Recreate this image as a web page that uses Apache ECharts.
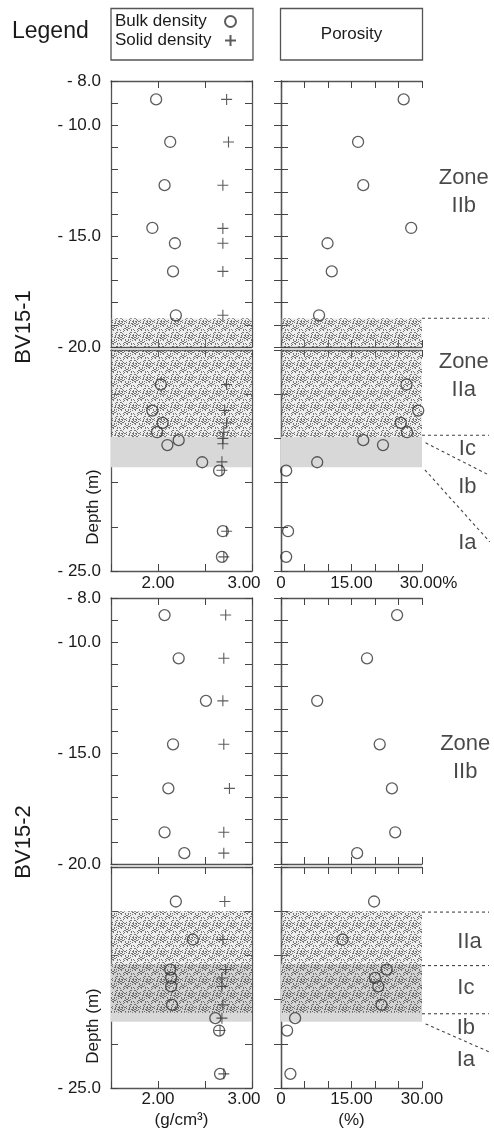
<!DOCTYPE html>
<html><head><meta charset="utf-8">
<script src="https://cdn.jsdelivr.net/npm/echarts@6/dist/echarts.min.js"></script>
<style>html,body{margin:0;padding:0;background:#fff}#c{width:494px;height:1131px}</style>
</head><body><div id="c"></div>
<script>
// ================= DATA =================
// Depth values in metres (negative = below reference), densities in g/cm3, porosity in %
// BV15-1, upper section (-8 to -20 m)
const bv1TopDepth = [-8.83, -10.75, -12.70, -14.63, -15.32, -16.59, -18.57];
const bv1TopBulk = [1.98, 2.13, 2.07, 1.94, 2.18, 2.16, 2.19];
const bv1TopSolidDepth = [-8.83, -10.75, -12.70, -14.65, -15.32, -16.59, -18.57];
const bv1TopSolid = [2.73, 2.75, 2.69, 2.69, 2.69, 2.69, 2.69];
const bv1TopPoro = [26.1, 16.4, 17.5, 27.7, 9.9, 10.8, 8.1];
// BV15-1, lower section (-20 to -25 m)
const bv1BotDepth = [-20.78, -21.37, -21.65, -21.86, -22.04, -22.15, -22.54, -22.73, -24.10, -24.68];
const bv1BotBulk = [2.03, 1.94, 2.05, 1.99, 2.22, 2.10, 2.47, 2.65, 2.69, 2.68];
const bv1BotSolidDepth = [-20.78, -21.37, -21.65, -21.86, -22.00, -22.12, -22.53, -22.72, -24.10, -24.68];
const bv1BotSolid = [2.73, 2.71, 2.73, 2.70, 2.69, 2.69, 2.68, 2.68, 2.73, 2.70];
const bv1BotPoro = [26.7, 29.2, 25.5, 26.8, 17.5, 21.7, 7.7, 1.1, 1.5, 1.1];
// BV15-2, upper section
const bv2TopDepth = [-8.77, -10.72, -12.64, -14.60, -16.59, -18.57, -19.51];
const bv2TopBulk = [2.07, 2.22, 2.51, 2.16, 2.11, 2.07, 2.28];
const bv2TopSolid = [2.72, 2.70, 2.69, 2.70, 2.76, 2.70, 2.70];
const bv2TopPoro = [24.7, 18.3, 7.7, 21.0, 23.6, 24.3, 16.2];
// BV15-2, lower section
const bv2BotDepth = [-20.78, -21.64, -22.32, -22.51, -22.70, -23.12, -23.42, -23.70, -24.68];
const bv2BotBulk = [2.19, 2.37, 2.13, 2.14, 2.14, 2.15, 2.61, 2.65, 2.66];
const bv2BotSolid = [2.71, 2.69, 2.72, 2.68, 2.68, 2.69, 2.68, 2.66, 2.70];
const bv2BotPoro = [19.8, 13.1, 22.5, 20.0, 20.7, 21.4, 3.0, 1.3, 2.0];

// Zone shading (depth ranges)
const bv1TopStipple = [[-18.7, -20]];
const bv1BotStipple = [[-20, -21.97]];
const bv1BotGrey = [[-21.97, -22.65]];
const bv2BotStipple = [[-21.0, -23.3]];
const bv2BotGrey = [[-22.2, -23.5]];

// Zone boundary lines [x0, depth0, x1, depth1] in the zone column (x: 0..1)
const bv1TopZoneLines = [[0, -18.7, 0.93, -18.7]];
const bv1BotZoneLines = [[0, -21.93, 0.93, -21.93], [0.05, -22.10, 0.93, -22.83], [0.04, -22.71, 0.94, -24.34]];
const bv2BotZoneLines = [[0, -21.02, 0.93, -21.02], [0, -22.23, 0.93, -22.23], [0, -23.32, 0.93, -23.32], [0.05, -23.55, 0.93, -24.18]];

// Zone labels [x, depth, text]
const bv1TopZoneLabels = [[0.58, -13.0, 'Zone\nIIb']];
const bv1BotZoneLabels = [[0.58, -20.58, 'Zone\nIIa'], [0.63, -22.24, 'Ic'], [0.63, -23.1, 'Ib'], [0.63, -24.37, 'Ia']];
const bv2TopZoneLabels = [[0.6, -15.2, 'Zone\nIIb']];
const bv2BotZoneLabels = [[0.66, -21.69, 'IIa'], [0.61, -22.73, 'Ic'], [0.61, -23.63, 'Ib'], [0.61, -24.36, 'Ia']];

// Tick labels
const depthLabels = {'-8': '- 8.0', '-10': '- 10.0', '-15': '- 15.0', '-20': '- 20.0', '-25': '- 25.0'};
const densityLabels = {'2': '2.00', '3': '{r|3.00}'};
const poroLabelsUpper = {'0': '0', '15': '15.00', '30': '{p|30.00%}'};
const poroLabelsLower = {'0': '0', '15': '15.00', '30': '30.00'};

// ================= BUILD =================
const FONT = 'Liberation Sans, Arial, Helvetica, sans-serif';
const TXT = '#1a1a1a';
const grids = [], xAxes = [], yAxes = [], series = [];

// stipple texture tile (fixed dot layout)
const TILE = 14;
const pc = document.createElement('canvas');
pc.width = TILE; pc.height = TILE;
const pctx = pc.getContext('2d');
pctx.fillStyle = 'rgba(200,200,200,0.3)';
pctx.fillRect(0, 0, TILE, TILE);
pctx.fillStyle = 'rgba(45,45,45,0.62)';
for (let i = 0; i < TILE; i++) for (let j = 0; j < TILE; j++) {
  if ((i * 5 + j * 3 + ((i * j) % 4)) % 7 < 2) pctx.fillRect(i, j, 1, 1);
}
const stipple = {image: pc, repeat: 'repeat'};
const GREY = '#d8d8d8';

const axLine = {show: true, lineStyle: {color: '#555', width: 1.3}};
const tick = {show: true, inside: true, length: 7, lineStyle: {color: '#444', width: 1}};
const richBase = {
  r: {fontSize: 17, fontFamily: FONT, color: TXT, padding: [0, 16, 0, 0]},
  p: {fontSize: 17, fontFamily: FONT, color: TXT, padding: [0, 0, 0, 13]}
};

function addPanel(c) {
  const gi = grids.length;
  grids.push({left: c.left, top: c.top, width: c.width, height: c.height});
  const xi = xAxes.length;
  xAxes.push({
    gridIndex: gi, type: 'value', position: 'bottom', min: c.xmin, max: c.xmax, interval: c.xint,
    axisLine: axLine, axisTick: tick, splitLine: {show: false},
    axisLabel: c.xLabels ? {
      show: true, interval: 0, margin: c.xMargin, fontSize: 17, fontFamily: FONT, color: TXT,
      showMinLabel: true, showMaxLabel: true, rich: richBase,
      formatter: v => c.xLabels[String(v)] || ''
    } : {show: false},
    name: c.xName || '', nameLocation: 'middle', nameGap: 24,
    nameTextStyle: {fontSize: 17, fontFamily: FONT, color: TXT}
  });
  xAxes.push({
    gridIndex: gi, type: 'value', position: 'top', min: c.xmin, max: c.xmax, interval: c.xint,
    axisLine: axLine, axisTick: tick, splitLine: {show: false}, axisLabel: {show: false}
  });
  const yi = yAxes.length;
  yAxes.push({
    gridIndex: gi, type: 'value', position: 'left', min: c.ymin, max: c.ymax, interval: 1,
    axisLine: axLine, axisTick: tick, splitLine: {show: false},
    axisLabel: c.yLabels ? {
      show: true, interval: 0, margin: 10, fontSize: 17, fontFamily: FONT, color: TXT,
      showMinLabel: true, showMaxLabel: true,
      formatter: v => (c.yLabels.includes(v) ? depthLabels[String(v)] : '')
    } : {show: false}
  });
  yAxes.push({
    gridIndex: gi, type: 'value', position: 'right', min: c.ymin, max: c.ymax, interval: 1,
    axisLine: axLine, axisTick: tick, splitLine: {show: false}, axisLabel: {show: false}
  });
  return {xi, yi};
}

function addZoneGrid(top, height, ymin, ymax) {
  const gi = grids.length;
  grids.push({left: 422, top: top, width: 72, height: height});
  const xi = xAxes.length;
  xAxes.push({gridIndex: gi, type: 'value', min: 0, max: 1, show: false});
  const yi = yAxes.length;
  yAxes.push({gridIndex: gi, type: 'value', min: ymin, max: ymax, show: false});
  return {xi, yi};
}

function areas(p, ranges, color, z) {
  if (!ranges.length) return;
  series.push({
    type: 'scatter', xAxisIndex: p.xi, yAxisIndex: p.yi, data: [], silent: true, z: z,
    markArea: {silent: true, itemStyle: {color: color, borderWidth: 0}, label: {show: false},
      data: ranges.map(r => [{yAxis: r[0]}, {yAxis: r[1]}])}
  });
}

const CROSS = 'path://M0,5L10,5M5,0L5,10';
function bulk(p, xs, ys) {
  series.push({
    name: 'Bulk density', type: 'scatter', xAxisIndex: p.xi, yAxisIndex: p.yi, z: 5,
    symbol: 'circle', symbolSize: 11,
    itemStyle: {color: 'rgba(0,0,0,0)', borderColor: '#333', borderWidth: 1.3},
    data: xs.map((v, i) => [v, ys[i]])
  });
}
function solid(p, xs, ys) {
  series.push({
    name: 'Solid density', type: 'scatter', xAxisIndex: p.xi, yAxisIndex: p.yi, z: 5,
    symbol: CROSS, symbolSize: 11,
    itemStyle: {color: 'rgba(0,0,0,0)', borderColor: '#333', borderWidth: 1.1},
    data: xs.map((v, i) => [v, ys[i]])
  });
}
function poro(p, xs, ys) {
  series.push({
    name: 'Porosity', type: 'scatter', xAxisIndex: p.xi, yAxisIndex: p.yi, z: 5,
    symbol: 'circle', symbolSize: 11,
    itemStyle: {color: 'rgba(0,0,0,0)', borderColor: '#333', borderWidth: 1.3},
    data: xs.map((v, i) => [v, ys[i]])
  });
}
function zoneLines(p, lines) {
  lines.forEach(l => series.push({
    type: 'line', xAxisIndex: p.xi, yAxisIndex: p.yi, symbol: 'none', silent: true, z: 3,
    lineStyle: {color: '#444', width: 1.1, type: [3, 3]},
    data: [[l[0], l[1]], [l[2], l[3]]]
  }));
}
function zoneLabels(p, labels) {
  series.push({
    type: 'scatter', xAxisIndex: p.xi, yAxisIndex: p.yi, symbolSize: 0, silent: true, z: 4,
    label: {show: true, position: 'inside', fontSize: 22, fontFamily: FONT, color: TXT,
      lineHeight: 28, align: 'center', verticalAlign: 'middle', formatter: d => d.data[2]},
    data: labels
  });
}

const DL = 111, DW = 141, PL = 281, PW = 141;
const blocks = [
  {topT: 81, botT: 350, xNames: false, poroLabels: poroLabelsUpper, xMargin: 4,
   top: {d: bv1TopDepth, b: bv1TopBulk, sd: bv1TopSolidDepth, s: bv1TopSolid, p: bv1TopPoro, pd: bv1TopDepth},
   bot: {d: bv1BotDepth, b: bv1BotBulk, sd: bv1BotSolidDepth, s: bv1BotSolid, p: bv1BotPoro, pd: bv1BotDepth},
   topStip: bv1TopStipple, topGrey: [], botStip: bv1BotStipple, botGrey: bv1BotGrey,
   topLines: bv1TopZoneLines, botLines: bv1BotZoneLines, topLabels: bv1TopZoneLabels, botLabels: bv1BotZoneLabels},
  {topT: 598, botT: 867, xNames: true, poroLabels: poroLabelsLower, xMargin: 3,
   top: {d: bv2TopDepth, b: bv2TopBulk, sd: bv2TopDepth, s: bv2TopSolid, p: bv2TopPoro, pd: bv2TopDepth},
   bot: {d: bv2BotDepth, b: bv2BotBulk, sd: bv2BotDepth, s: bv2BotSolid, p: bv2BotPoro, pd: bv2BotDepth},
   topStip: [], topGrey: [], botStip: bv2BotStipple, botGrey: bv2BotGrey,
   topLines: [], botLines: bv2BotZoneLines, topLabels: bv2TopZoneLabels, botLabels: bv2BotZoneLabels}
];

blocks.forEach(B => {
  ['top', 'bot'].forEach(part => {
    const isTop = part === 'top';
    const T = isTop ? B.topT : B.botT, H = isTop ? 266 : 221;
    const ymin = isTop ? -20 : -25, ymax = isTop ? -8 : -20;
    const yl = isTop ? [-8, -10, -15, -20] : [-25];
    const dP = addPanel({left: DL, top: T, width: DW, height: H, xmin: 1.5, xmax: 3, xint: 0.5,
      ymin, ymax, yLabels: yl, xLabels: isTop ? null : densityLabels, xMargin: B.xMargin,
      xName: (!isTop && B.xNames) ? '(g/cm³)' : ''});
    const pP = addPanel({left: PL, top: T, width: PW, height: H, xmin: 0, xmax: 30, xint: 5,
      ymin, ymax, yLabels: null, xLabels: isTop ? null : B.poroLabels, xMargin: B.xMargin,
      xName: (!isTop && B.xNames) ? '(%)' : ''});
    const zP = addZoneGrid(T, H, ymin, ymax);
    const grey = isTop ? B.topGrey : B.botGrey;
    const stip = isTop ? B.topStip : B.botStip;
    [dP, pP].forEach(p => { areas(p, grey, GREY, 1); areas(p, stip, stipple, 2); });
    const D = B[part];
    bulk(dP, D.b, D.d);
    solid(dP, D.s, D.sd);
    poro(pP, D.p, D.pd);
    zoneLines(zP, isTop ? B.topLines : B.botLines);
    zoneLabels(zP, isTop ? B.topLabels : B.botLabels);
  });
});

const chart = echarts.init(document.getElementById('c'), null, {renderer: 'canvas'});
chart.setOption({
  animation: false,
  backgroundColor: '#fff',
  textStyle: {fontFamily: FONT},
  grid: grids, xAxis: xAxes, yAxis: yAxes, series: series,
  legend: {
    data: ['Bulk density', 'Solid density'], orient: 'vertical', left: 115, top: 13,
    align: 'right', itemWidth: 11, itemHeight: 11, itemGap: 2, selectedMode: false, padding: 0,
    formatter: name => '{a|' + name + '}',
    textStyle: {fontSize: 17, fontFamily: FONT, color: TXT,
      rich: {a: {width: 105, align: 'left', fontSize: 17, fontFamily: FONT, color: TXT}}}
  },
  graphic: [
    {type: 'text', left: 12, top: 20, style: {text: 'Legend', fontSize: 23, fontFamily: FONT, fill: TXT}},
    {type: 'rect', shape: {x: 111, y: 8.5, width: 142, height: 51.5}, style: {fill: 'none', stroke: '#555', lineWidth: 1.3}},
    {type: 'rect', shape: {x: 280.5, y: 8.5, width: 142, height: 51.5}, style: {fill: 'none', stroke: '#555', lineWidth: 1.3}},
    {type: 'text', x: 351.5, y: 34, style: {text: 'Porosity', fontSize: 17, fontFamily: FONT, fill: TXT, align: 'center', verticalAlign: 'middle'}},
    {type: 'text', x: 24, y: 327, rotation: Math.PI / 2, style: {text: 'BV15-1', fontSize: 22, fontFamily: FONT, fill: TXT, align: 'center', verticalAlign: 'middle'}},
    {type: 'text', x: 24, y: 842, rotation: Math.PI / 2, style: {text: 'BV15-2', fontSize: 22, fontFamily: FONT, fill: TXT, align: 'center', verticalAlign: 'middle'}},
    {type: 'text', x: 93, y: 507, rotation: Math.PI / 2, style: {text: 'Depth (m)', fontSize: 17, fontFamily: FONT, fill: TXT, align: 'center', verticalAlign: 'middle'}},
    {type: 'text', x: 93, y: 1026, rotation: Math.PI / 2, style: {text: 'Depth (m)', fontSize: 17, fontFamily: FONT, fill: TXT, align: 'center', verticalAlign: 'middle'}}
  ]
});
</script>
</body></html>
